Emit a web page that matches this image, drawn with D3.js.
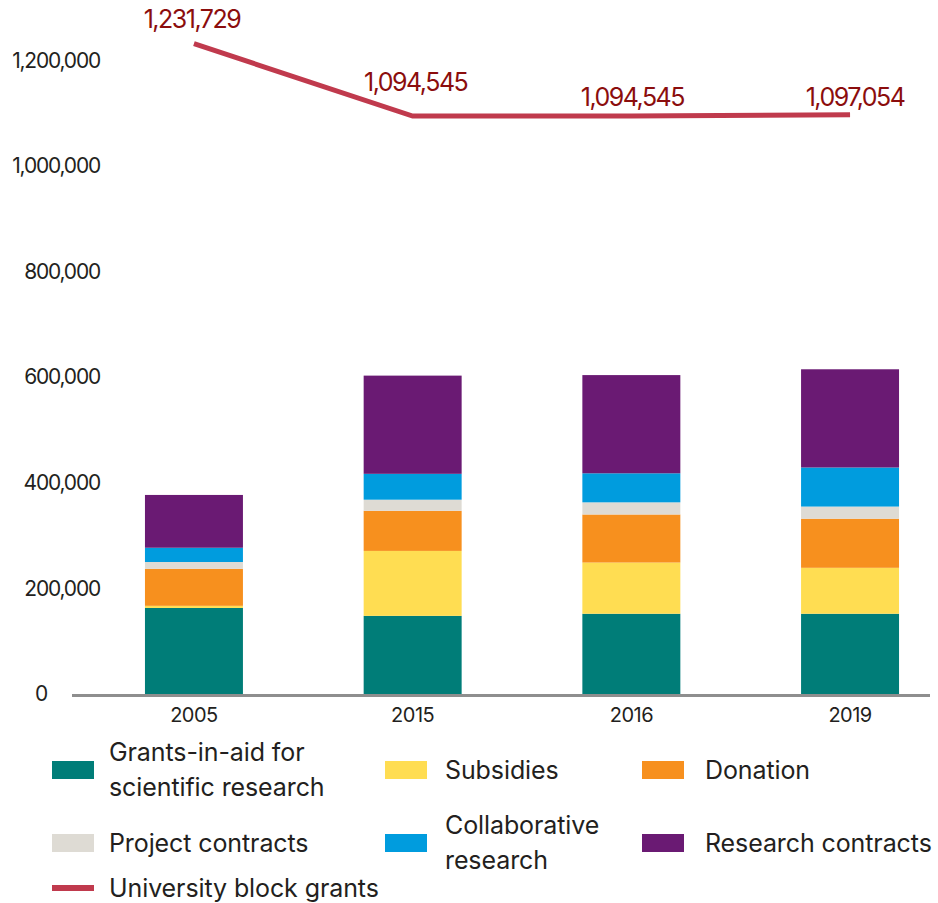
<!DOCTYPE html>
<html>
<head>
<meta charset="utf-8">
<script src="https://cdn.jsdelivr.net/npm/d3@7/dist/d3.min.js"></script>
<style>
  html, body { margin: 0; padding: 0; background: #ffffff; }
  svg { display: block; }
  text { font-family: Inter, "Noto Sans", sans-serif; fill: #231f20; }
</style>
</head>
<body>
<svg id="chart" width="938" height="903"></svg>
<script>
// ---------- data ----------
const years = ["2005", "2015", "2016", "2019"];

const grantsInAid       = [163000, 148000, 152000, 152000];
const subsidies         = [4000, 123000, 97000, 87000];
const donation          = [70000, 76000, 91000, 93000];
const projectContracts  = [13000, 21000, 23000, 23000];
const collaborative     = [27000, 49000, 55000, 74000];
const researchContracts = [100000, 186000, 186000, 186000];

const blockGrants = [1231729, 1094545, 1094545, 1097054];

const yTicks = [0, 200000, 400000, 600000, 800000, 1000000, 1200000];

const seriesNames = [
  "Grants-in-aid for scientific research",
  "Subsidies",
  "Donation",
  "Project contracts",
  "Collaborative research",
  "Research contracts"
];
const seriesValues = [grantsInAid, subsidies, donation, projectContracts, collaborative, researchContracts];
const seriesColors = ["#007d78", "#ffdd52", "#f7901e", "#dedbd4", "#009cde", "#6a1a73"];
const lineName = "University block grants";
const lineColor = "#c03a4d";
const lineLabelColor = "#8b0d0d";

// ---------- build table ----------
const table = years.map((yr, i) => {
  const row = { year: yr };
  seriesNames.forEach((s, j) => { row[s] = seriesValues[j][i]; });
  return row;
});
const stacked = d3.stack().keys(seriesNames)(table);

const svg = d3.select("#chart");

const x = d3.scaleBand()
  .domain(years)
  .range([84.6, 959.4])
  .paddingInner(0.552)
  .paddingOuter(0.276);

const y = d3.scaleLinear()
  .domain([0, 1200000])
  .range([694, 60.4]);

// bars
svg.append("g")
  .selectAll("g")
  .data(stacked)
  .join("g")
  .attr("fill", (d, i) => seriesColors[i])
  .selectAll("rect")
  .data(d => d)
  .join("rect")
  .attr("x", d => x(d.data.year))
  .attr("width", x.bandwidth())
  .attr("y", d => y(d[1]))
  .attr("height", d => y(d[0]) - y(d[1]));

// baseline
svg.append("line")
  .attr("x1", 72).attr("x2", 930)
  .attr("y1", y(0) + 1.5).attr("y2", y(0) + 1.5)
  .attr("stroke", "#8e8e8e")
  .attr("stroke-width", 3);

// y axis (labels only)
const yAxis = svg.append("g")
  .attr("transform", "translate(100,0)")
  .call(d3.axisLeft(y).tickValues(yTicks).tickSize(0).tickPadding(0)
        .tickFormat(d3.format(",")));
yAxis.select(".domain").remove();
yAxis.selectAll("text")
  .attr("font-family", "Inter, sans-serif")
  .attr("font-size", 21)
  .attr("letter-spacing", "-1.2px")
  .attr("fill", "#231f20")
  .attr("dy", "0.32em");
yAxis.selectAll(".tick").filter(d => d === 0).select("text").attr("x", -53);

// x axis (labels only)
const xAxis = svg.append("g")
  .attr("transform", `translate(0,${y(0)})`)
  .call(d3.axisBottom(x).tickSize(0).tickPadding(14));
xAxis.select(".domain").remove();
xAxis.selectAll("text")
  .attr("font-family", "Inter, sans-serif")
  .attr("font-size", 20)
  .attr("letter-spacing", "-0.5px")
  .attr("fill", "#231f20");

// line
const cx = d => x(d) + x.bandwidth() / 2;
const lineGen = d3.line()
  .x((d, i) => cx(years[i]))
  .y(d => y(d));
svg.append("path")
  .datum(blockGrants)
  .attr("d", lineGen)
  .attr("fill", "none")
  .attr("stroke", lineColor)
  .attr("stroke-width", 5);

// line labels
const labelOffsets = [[-2, -24], [3, -34], [1, -19], [5, -18]];
svg.append("g")
  .selectAll("text")
  .data(blockGrants)
  .join("text")
  .attr("x", (d, i) => cx(years[i]) + labelOffsets[i][0])
  .attr("y", (d, i) => y(d) + labelOffsets[i][1])
  .attr("dy", "0.35em")
  .attr("text-anchor", "middle")
  .attr("font-size", 25)
  .attr("letter-spacing", "-1.5px")
  .style("fill", lineLabelColor)
  .text(d => d3.format(",")(d));

// legend
const legendSwatchX = [52, 385, 642];
const legendTextX = [109, 445, 705];
const legendRowY = [770, 843, 888];
const legendLines = [
  ["Grants-in-aid for", "scientific research"],
  ["Subsidies"],
  ["Donation"],
  ["Project contracts"],
  ["Collaborative", "research"],
  ["Research contracts"]
];
const legend = svg.append("g");
seriesNames.forEach((name, i) => {
  const col = i % 3, row = Math.floor(i / 3);
  const cy = legendRowY[row];
  legend.append("rect")
    .attr("x", legendSwatchX[col])
    .attr("y", cy - 9)
    .attr("width", 42)
    .attr("height", 18)
    .attr("fill", seriesColors[i]);
  const lines = legendLines[i];
  const t = legend.append("text")
    .attr("x", legendTextX[col])
    .attr("y", cy)
    .attr("font-size", 25)
    .attr("letter-spacing", "-0.1px");
  lines.forEach((ln, k) => {
    t.append("tspan")
      .attr("x", legendTextX[col])
      .attr("y", cy + (k - (lines.length - 1) / 2) * 35)
      .attr("dy", "0.35em")
      .text(ln);
  });
});
legend.append("line")
  .attr("x1", legendSwatchX[0]).attr("x2", legendSwatchX[0] + 42)
  .attr("y1", legendRowY[2]).attr("y2", legendRowY[2])
  .attr("stroke", lineColor)
  .attr("stroke-width", 6);
legend.append("text")
  .attr("x", legendTextX[0])
  .attr("y", legendRowY[2])
  .attr("dy", "0.35em")
  .attr("font-size", 25)
  .attr("letter-spacing", "-0.1px")
  .text(lineName);
</script>
</body>
</html>
